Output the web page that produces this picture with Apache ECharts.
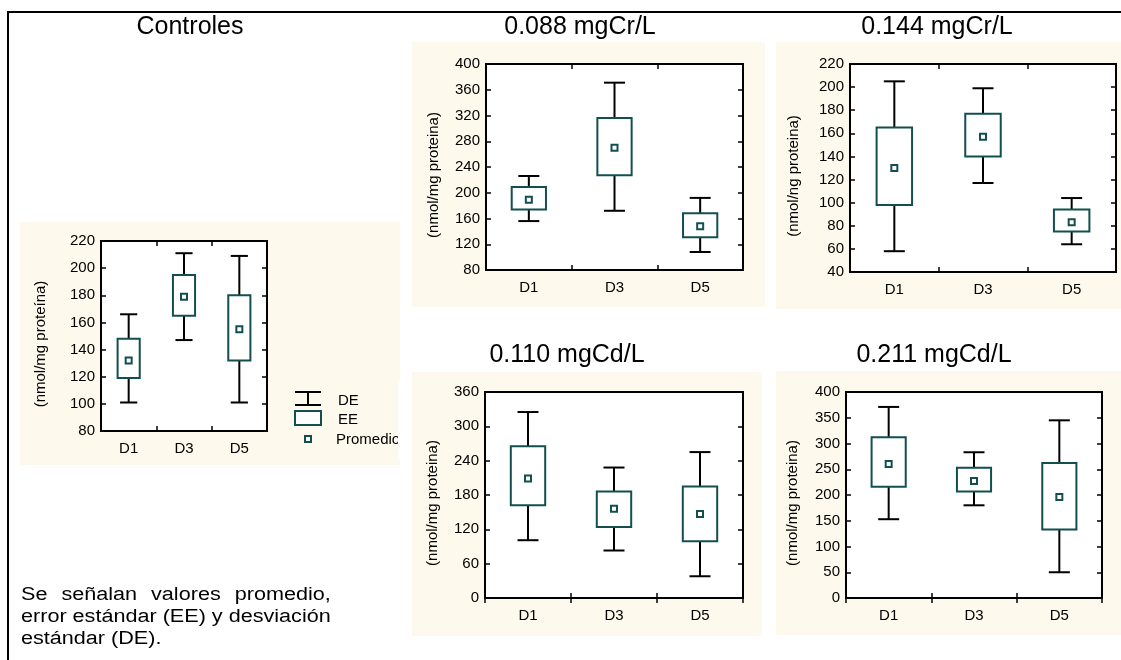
<!DOCTYPE html>
<html><head><meta charset="utf-8">
<script src="https://cdn.jsdelivr.net/npm/echarts@6/dist/echarts.min.js"></script>
<style>html,body{margin:0;padding:0;background:#fff}#c{width:1121px;height:660px}</style>
</head><body><div id="c"></div>
<script>
// ---- data ----
const categories = ['D1', 'D3', 'D5'];
const panelTitles = ['Controles', '0.088 mgCr/L', '0.144 mgCr/L', '0.110 mgCd/L', '0.211 mgCd/L'];
const yNames = ['(nmol/mg proteína)', '(nmol/mg proteina)', '(nmol/ng proteina)', '(nmol/mg proteina)', '(nmol/mg proteina)'];
const yMin = [80, 80, 40, 0, 0];
const yMax = [220, 400, 220, 360, 400];
const yStep = [20, 40, 20, 60, 50];
// each row: [DE min, EE min, promedio, EE max, DE max]
const controles = [[101, 119, 132, 148, 166], [147, 165, 179, 195, 211], [101, 132, 155, 180, 209]];
const cr088 = [[156, 174, 189, 209, 226], [172, 227, 270, 316, 371], [108, 131, 148, 168, 192]];
const cr144 = [[58, 98, 130, 165, 205], [117, 140, 157, 177, 199], [64, 75, 83, 94, 104]];
const cd110 = [[101, 162, 209, 265, 325], [83, 124, 156, 186, 228], [38, 99, 147, 195, 255]];
const cd211 = [[153, 216, 260, 312, 371], [180, 207, 227, 253, 283], [50, 133, 196, 262, 345]];
const legendLabels = ['DE', 'EE', 'Promedio'];
const noteLines = ['Se señalan valores promedio,', 'error estándar (EE) y desviación', 'estándar (DE).'];

// ---- layout / style ----
const panels = [controles, cr088, cr144, cd110, cd211];
const grids = [
  {left: 101, top: 241, width: 166, height: 190},
  {left: 486, top: 64, width: 257, height: 206},
  {left: 850, top: 64, width: 266, height: 208},
  {left: 485, top: 392, width: 258, height: 206},
  {left: 846, top: 392, width: 256, height: 206}
];
const bgs = [[20, 222, 380, 243], [412, 42, 353, 265], [776, 42, 345, 267], [412, 372, 350, 264], [776, 371, 345, 264]];
const titlePos = [[190, 27], [580, 27], [937, 27], [567, 355], [934, 355]];
const nameGaps = [53, 45, 49, 45, 46];
const FONT = '"Liberation Sans", Arial, sans-serif';
const TEAL = '#11504f';
const CREAM = '#fdf9ec';
const AX_FS = 15;

const xAxes = [], yAxes = [], series = [];
panels.forEach((rows, i) => {
  const tick = {show: true, inside: true, length: 5, lineStyle: {color: '#000', width: 1.5}};
  const line = {show: true, lineStyle: {color: '#000', width: 2}};
  xAxes.push({type: 'category', gridIndex: i, data: categories, position: 'bottom',
    axisLine: line, axisTick: tick, splitLine: {show: false},
    axisLabel: {color: '#000', fontFamily: FONT, fontSize: AX_FS, margin: 10}});
  xAxes.push({type: 'category', gridIndex: i, data: categories, position: 'top',
    axisLine: line, axisTick: tick, axisLabel: {show: false}, splitLine: {show: false}});
  yAxes.push({type: 'value', gridIndex: i, min: yMin[i], max: yMax[i], interval: yStep[i], position: 'left',
    name: yNames[i], nameLocation: 'middle', nameGap: nameGaps[i], nameRotate: 90,
    nameTextStyle: {color: '#000', fontFamily: FONT, fontSize: AX_FS, padding: [0, 16, 0, 0]},
    axisLine: line, axisTick: tick, splitLine: {show: false},
    axisLabel: {color: '#000', fontFamily: FONT, fontSize: AX_FS, margin: 6}});
  yAxes.push({type: 'value', gridIndex: i, min: yMin[i], max: yMax[i], interval: yStep[i], position: 'right',
    axisLine: line, axisTick: tick, axisLabel: {show: false}, splitLine: {show: false}});
  series.push({
    type: 'custom', xAxisIndex: 2 * i, yAxisIndex: 2 * i,
    data: rows.map((r, k) => [k].concat(r)),
    renderItem: function (params, api) {
      const c = api.value(0);
      const pLo = api.coord([c, api.value(1)]);
      const pEL = api.coord([c, api.value(2)]);
      const pM = api.coord([c, api.value(3)]);
      const pEH = api.coord([c, api.value(4)]);
      const pHi = api.coord([c, api.value(5)]);
      const band = api.size([1, 0])[0];
      const boxW = band * 0.4;
      const capW = Math.min(band * 0.31, 21);
      const x = pM[0];
      const blk = {stroke: '#000', lineWidth: 2};
      return {type: 'group', children: [
        {type: 'line', shape: {x1: x, y1: pLo[1], x2: x, y2: pHi[1]}, style: blk},
        {type: 'line', shape: {x1: x - capW / 2, y1: pLo[1], x2: x + capW / 2, y2: pLo[1]}, style: blk},
        {type: 'line', shape: {x1: x - capW / 2, y1: pHi[1], x2: x + capW / 2, y2: pHi[1]}, style: blk},
        {type: 'rect', shape: {x: x - boxW / 2, y: pEH[1], width: boxW, height: pEL[1] - pEH[1]},
          style: {fill: '#fff', stroke: TEAL, lineWidth: 2}},
        {type: 'rect', shape: {x: x - 3, y: pM[1] - 3, width: 6, height: 6},
          style: {fill: '#fff', stroke: TEAL, lineWidth: 2}}
      ]};
    }
  });
});

const graphic = [];
bgs.forEach(b => graphic.push({type: 'rect', z: -10, silent: true,
  shape: {x: b[0], y: b[1], width: b[2], height: b[3]}, style: {fill: CREAM}}));
panelTitles.forEach((t, i) => graphic.push({type: 'text', x: titlePos[i][0], y: titlePos[i][1],
  style: {text: t, fill: '#000', font: '25px ' + FONT, textAlign: 'center', textVerticalAlign: 'middle'}}));
// frame
graphic.push({type: 'line', shape: {x1: 8, y1: 12, x2: 8, y2: 660}, style: {stroke: '#000', lineWidth: 2}});
graphic.push({type: 'line', shape: {x1: 7, y1: 12, x2: 1121, y2: 12}, style: {stroke: '#000', lineWidth: 2}});
// legend (Controles)
graphic.push({type: 'line', shape: {x1: 295, y1: 392, x2: 321, y2: 392}, style: {stroke: '#000', lineWidth: 2}});
graphic.push({type: 'line', shape: {x1: 308, y1: 392, x2: 308, y2: 405}, style: {stroke: '#000', lineWidth: 2}});
graphic.push({type: 'line', shape: {x1: 295, y1: 405, x2: 321, y2: 405}, style: {stroke: '#000', lineWidth: 2}});
graphic.push({type: 'rect', shape: {x: 295, y: 411, width: 26, height: 14}, style: {fill: '#fff', stroke: TEAL, lineWidth: 2}});
graphic.push({type: 'rect', shape: {x: 305, y: 436, width: 6, height: 6}, style: {fill: '#fff', stroke: TEAL, lineWidth: 2}});
graphic.push({type: 'text', x: 338, y: 401, style: {text: legendLabels[0], fill: '#000', font: '15px ' + FONT, textVerticalAlign: 'middle'}});
graphic.push({type: 'text', x: 338, y: 420, style: {text: legendLabels[1], fill: '#000', font: '15px ' + FONT, textVerticalAlign: 'middle'}});
graphic.push({type: 'text', x: 336, y: 440, style: {text: legendLabels[2], fill: '#000', font: '15px ' + FONT, textVerticalAlign: 'middle'}});
graphic.push({type: 'rect', z: 50, silent: true, shape: {x: 398, y: 380, width: 14, height: 80}, style: {fill: '#fff'}});

// justified note text (slightly widened glyphs as in the reference)
const ctx = document.createElement('canvas').getContext('2d');
const noteFont = '18px ' + FONT;
const noteScale = 1.2;
ctx.font = noteFont;
const noteX = 21, noteY = [595, 617, 639];
const fullW = ctx.measureText(noteLines[1]).width;
function noteText(str, x, y) {
  return {type: 'text', x: x, y: y, scaleX: noteScale,
    style: {text: str, fill: '#000', font: noteFont, textVerticalAlign: 'middle'}};
}
noteLines.forEach((ln, li) => {
  if (li === 0) {
    const words = ln.split(' ');
    const ws = words.map(w => ctx.measureText(w).width);
    const gap = (fullW - ws.reduce((a, b) => a + b, 0)) / (words.length - 1);
    let cx = 0;
    words.forEach((w, k) => {
      graphic.push(noteText(w, noteX + cx * noteScale, noteY[li]));
      cx += ws[k] + gap;
    });
  } else {
    graphic.push(noteText(ln, noteX, noteY[li]));
  }
});

const chart = echarts.init(document.getElementById('c'), null, {renderer: 'canvas'});
chart.setOption({
  backgroundColor: '#fff',
  animation: false,
  grid: grids.map(g => Object.assign({show: true, backgroundColor: '#fff', borderColor: '#000', borderWidth: 2, containLabel: false}, g)),
  xAxis: xAxes,
  yAxis: yAxes,
  series: series,
  graphic: graphic
});
</script></body></html>
